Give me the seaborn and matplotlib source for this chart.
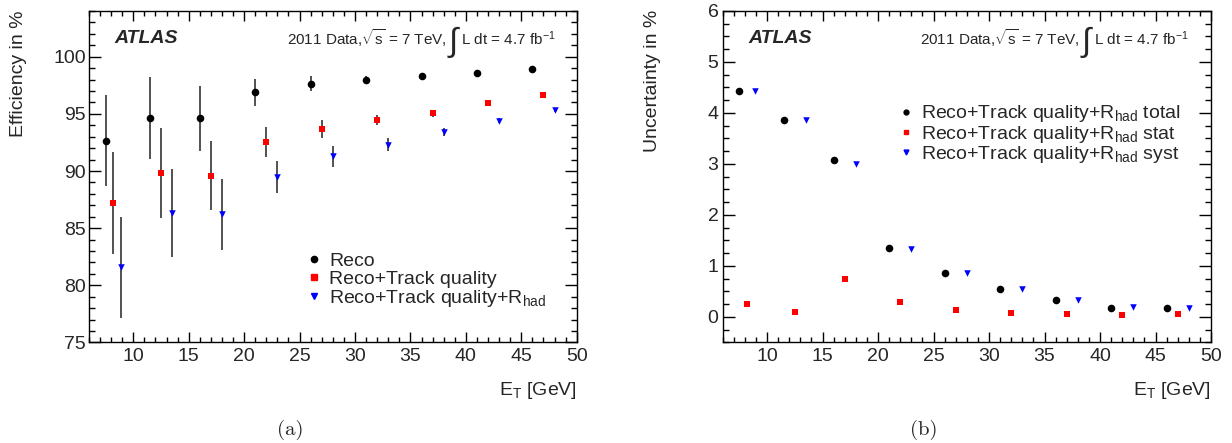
import numpy as np
import pandas as pd
import matplotlib
matplotlib.use('Agg')
import matplotlib.pyplot as plt
import seaborn as sns
from matplotlib.lines import Line2D
from matplotlib.ticker import MultipleLocator

# E_T bin positions (GeV), shifted per series as in the original plot
et_reco = [7.5, 11.5, 16, 21, 26, 31, 36, 41, 46]
et_track = [8.2, 12.5, 17, 22, 27, 32, 37, 42, 47]
et_rhad = [8.9, 13.5, 18, 23, 28, 33, 38, 43, 48]

# (a) efficiencies in %
eff_reco = [92.66, 94.64, 94.61, 96.88, 97.64, 97.99, 98.31, 98.6, 98.9]
err_reco = [3.96, 3.56, 2.83, 1.18, 0.66, 0.3, 0.2, 0.15, 0.15]
eff_track = [87.2, 89.85, 89.6, 92.56, 93.7, 94.5, 95.05, 95.93, 96.63]
err_track = [4.47, 3.95, 3.0, 1.3, 0.78, 0.44, 0.3, 0.2, 0.2]
eff_rhad = [81.56, 86.34, 86.2, 89.47, 91.3, 92.29, 93.39, 94.41, 95.34]
err_rhad = [4.45, 3.88, 3.1, 1.41, 0.92, 0.58, 0.35, 0.19, 0.19]

# (b) uncertainties in %
unc_total = [4.43, 3.86, 3.07, 1.35, 0.87, 0.54, 0.33, 0.18, 0.18]
unc_stat = [0.255, 0.105, 0.745, 0.29, 0.145, 0.08, 0.05, 0.04, 0.05]
unc_syst = [4.44, 3.87, 2.99, 1.33, 0.86, 0.54, 0.34, 0.19, 0.18]

sns.set_style('ticks')
plt.rcParams.update({
    'font.family': ['Liberation Sans', 'DejaVu Sans'],
    'mathtext.fontset': 'custom',
    'mathtext.rm': 'Liberation Sans',
    'mathtext.it': 'Liberation Sans:italic',
    'mathtext.bf': 'Liberation Sans:bold',
    'axes.linewidth': 1.0,
    'axes.edgecolor': 'black',
    'xtick.labelsize': 14,
    'ytick.labelsize': 14,
})

ERR_COLOR = '#333333'


def style_axes(ax, ymajor, yminor, ypad):
    ax.set_xlim(6, 50)
    ax.xaxis.set_major_locator(MultipleLocator(5))
    ax.xaxis.set_minor_locator(MultipleLocator(1))
    ax.yaxis.set_major_locator(MultipleLocator(ymajor))
    ax.yaxis.set_minor_locator(MultipleLocator(yminor))
    ax.tick_params(which='both', direction='in', top=True, right=True,
                   color='black', width=1.0)
    ax.tick_params(axis='x', which='major', length=7.2, pad=4)
    ax.tick_params(axis='x', which='minor', length=3.4)
    ax.tick_params(axis='y', which='major', length=8.8, pad=ypad)
    ax.tick_params(axis='y', which='minor', length=4.4)
    ax.set_xlabel('')
    ax.set_ylabel('')
    for s in ax.spines.values():
        s.set_visible(True)


def header(ax, x_right):
    yb = 0.896
    ax.text(0.052, 0.918, 'ATLAS', transform=ax.transAxes, fontsize=14,
            fontweight='bold', fontstyle='italic', va='center', ha='left')
    t_lumi = ax.text(x_right, yb, r'L dt = 4.7 fb$^{-1}$', transform=ax.transAxes,
                     fontsize=11, ha='right', va='baseline')
    t_int = ax.annotate('\u222b', xy=(0, yb), xycoords=(t_lumi, 'axes fraction'),
                        xytext=(-2.5, -4), textcoords='offset points',
                        fontsize=24, ha='right', va='baseline')
    ax.annotate(r'2011 Data,$\sqrt{\mathrm{s}}$ = 7 TeV,', xy=(0, yb),
                xycoords=(t_int, 'axes fraction'), xytext=(-1, 0),
                textcoords='offset points', fontsize=11, ha='right', va='baseline')


fig = plt.figure(figsize=(12.32, 4.43), dpi=100)
ax1 = fig.add_axes([0.0722, 0.2269, 0.3959, 0.7483])
ax2 = fig.add_axes([0.5866, 0.2269, 0.3964, 0.7483])

# ---- (a) efficiency ----
df_a = pd.DataFrame({'et': et_reco + et_track + et_rhad,
                     'val': eff_reco + eff_track + eff_rhad,
                     'err': err_reco + err_track + err_rhad,
                     'series': ['Reco'] * 9 + ['Track'] * 9 + ['Rhad'] * 9})
ax1.errorbar(df_a['et'], df_a['val'], yerr=df_a['err'], fmt='none',
             ecolor=ERR_COLOR, elinewidth=1.2, capsize=0, zorder=1)
for name, col, mk, s in [('Reco', 'black', 'o', 30), ('Track', 'red', 's', 24),
                         ('Rhad', 'blue', 'v', 22)]:
    sub = df_a[df_a['series'] == name]
    sns.scatterplot(data=sub, x='et', y='val', color=col, marker=mk, s=s,
                    linewidth=0, ax=ax1, zorder=3, legend=False)
ax1.set_ylim(75, 104)
style_axes(ax1, 5, 1, 2)
header(ax1, 0.957)

h1 = [Line2D([], [], ls='none', marker='o', color='black', markersize=4.5),
      Line2D([], [], ls='none', marker='s', color='red', markersize=4),
      Line2D([], [], ls='none', marker='v', color='blue', markersize=4.2)]
ax1.legend(h1, ['Reco', 'Reco+Track quality', r'Reco+Track quality+R$_{\mathrm{had}}$'],
           loc='upper left', bbox_to_anchor=(0.450, 0.273), frameon=False,
           fontsize=14, borderpad=0, borderaxespad=0, handlelength=0.6,
           handletextpad=0.47, labelspacing=0.02)

# ---- (b) uncertainty ----
df_b = pd.DataFrame({'et': et_reco + et_track + et_rhad,
                     'val': unc_total + unc_stat + unc_syst,
                     'series': ['total'] * 9 + ['stat'] * 9 + ['syst'] * 9})
for name, col, mk, s in [('total', 'black', 'o', 30), ('stat', 'red', 's', 24),
                         ('syst', 'blue', 'v', 22)]:
    sub = df_b[df_b['series'] == name]
    sns.scatterplot(data=sub, x='et', y='val', color=col, marker=mk, s=s,
                    linewidth=0, ax=ax2, zorder=3, legend=False)
ax2.set_ylim(-0.5, 6)
style_axes(ax2, 1, 0.25, 3)
header(ax2, 0.954)

h2 = [Line2D([], [], ls='none', marker='o', color='black', markersize=3.5),
      Line2D([], [], ls='none', marker='s', color='red', markersize=3.2),
      Line2D([], [], ls='none', marker='v', color='blue', markersize=3.5)]
ax2.legend(h2, [r'Reco+Track quality+R$_{\mathrm{had}}$ total',
                r'Reco+Track quality+R$_{\mathrm{had}}$ stat',
                r'Reco+Track quality+R$_{\mathrm{had}}$ syst'],
           loc='upper left', bbox_to_anchor=(0.3635, 0.721), frameon=False,
           fontsize=14, borderpad=0, borderaxespad=0, handlelength=0.6,
           handletextpad=0.47, labelspacing=-0.04)

# axis titles placed ROOT-style
fig.text(0.0149, 0.977, 'Efficiency in %', rotation=90, ha='center', va='top', fontsize=14)
fig.text(0.5298, 0.977, 'Uncertainty in %', rotation=90, ha='center', va='top', fontsize=14)
fig.text(0.4681, 0.1196, r'E$_{\mathrm{T}}$ [GeV]', ha='right', va='center', fontsize=14)
fig.text(0.9830, 0.1196, r'E$_{\mathrm{T}}$ [GeV]', ha='right', va='center', fontsize=14)

# sub-figure captions
fig.text(0.2354, 0.0293, '(a)', ha='center', va='center', fontsize=15, family='cmr10')
fig.text(0.7498, 0.0293, '(b)', ha='center', va='center', fontsize=15, family='cmr10')

fig.savefig('out.png', dpi=100)
